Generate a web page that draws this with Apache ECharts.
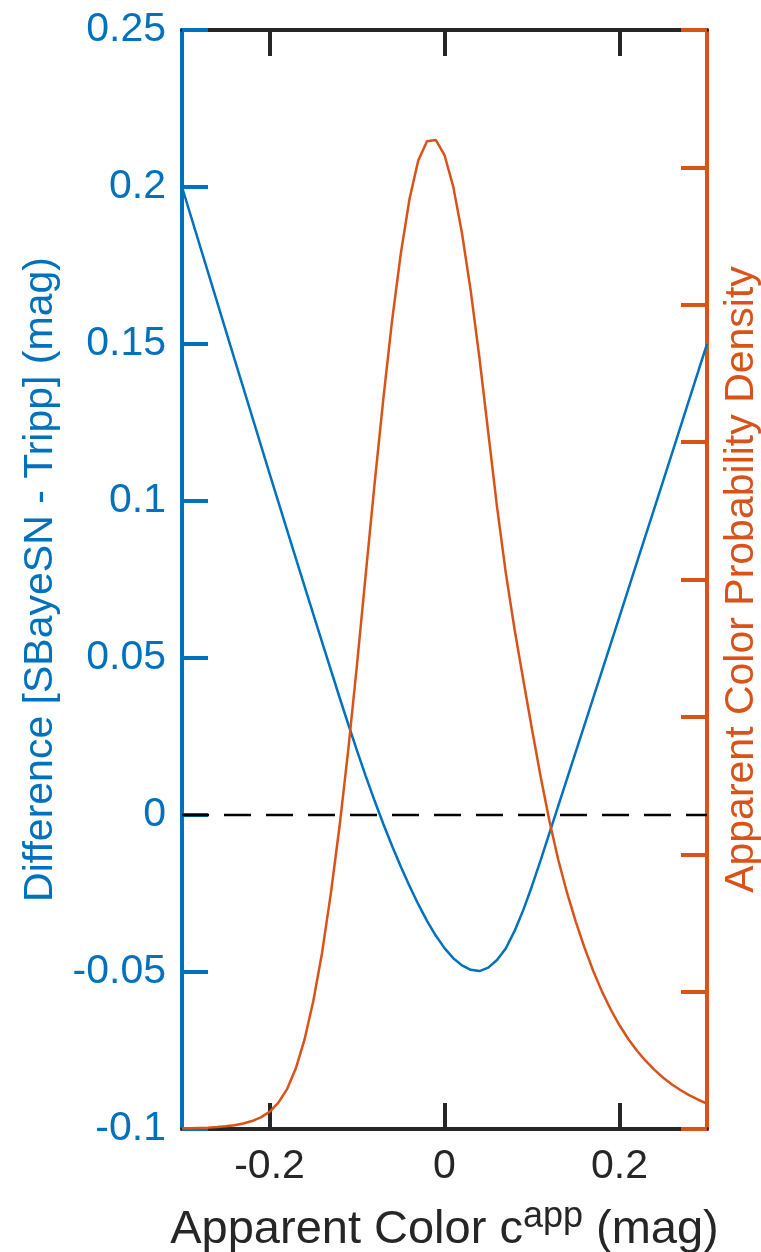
<!DOCTYPE html>
<html>
<head>
<meta charset="utf-8">
<script src="https://cdn.jsdelivr.net/npm/echarts@6/dist/echarts.min.js"></script>
<style>
  html, body { margin: 0; padding: 0; background: #ffffff; overflow: hidden; }
  #chart { width: 761px; height: 1252px; }
</style>
</head>
<body>
<div id="chart"></div>
<script>
// Difference between the two distance estimators as a function of apparent colour (left axis)
const diffColor = [
  -0.30, -0.28, -0.26, -0.24, -0.22, -0.20, -0.18, -0.16, -0.14, -0.12,
  -0.11, -0.10, -0.09, -0.08, -0.07, -0.06, -0.05, -0.04, -0.03, -0.02,
  -0.01, 0.00, 0.01, 0.02, 0.03, 0.04, 0.05, 0.06, 0.07, 0.08,
  0.09, 0.10, 0.11, 0.12, 0.13, 0.14, 0.15, 0.16, 0.17, 0.18,
  0.20, 0.22, 0.24, 0.26, 0.28, 0.30
];
const diffValues = [
  0.2000, 0.1817, 0.1635, 0.1452, 0.1270, 0.1088, 0.0908, 0.0729, 0.0551, 0.0375,
  0.0289, 0.0205, 0.0124, 0.0046, -0.0028, -0.0098, -0.0164, -0.0226, -0.0284, -0.0337,
  -0.0384, -0.0424, -0.0456, -0.0479, -0.0493, -0.0497, -0.0486, -0.0462, -0.0425, -0.0370,
  -0.0303, -0.0226, -0.0143, -0.0057, 0.0029, 0.0115, 0.0201, 0.0287, 0.0373, 0.0459,
  0.0632, 0.0805, 0.0978, 0.1152, 0.1326, 0.1500
];

// Apparent colour probability density (right axis, arbitrary units)
const densColor = [
  -0.30, -0.29, -0.28, -0.27, -0.26, -0.25, -0.24, -0.23, -0.22, -0.21,
  -0.20, -0.19, -0.18, -0.17, -0.16, -0.15, -0.14, -0.13, -0.12, -0.11,
  -0.10, -0.09, -0.08, -0.07, -0.06, -0.05, -0.04, -0.03, -0.02, -0.01,
  0.00, 0.01, 0.02, 0.03, 0.04, 0.05, 0.06, 0.07, 0.08, 0.09,
  0.10, 0.11, 0.12, 0.13, 0.14, 0.15, 0.16, 0.17, 0.18, 0.19,
  0.20, 0.21, 0.22, 0.23, 0.24, 0.25, 0.26, 0.27, 0.28, 0.29, 0.30
];
const densValues = [
  0.005, 0.006, 0.008, 0.010, 0.014, 0.020, 0.028, 0.040, 0.058, 0.085,
  0.125, 0.190, 0.290, 0.440, 0.650, 0.930, 1.280, 1.710, 2.200, 2.760,
  3.380, 4.040, 4.690, 5.310, 5.880, 6.370, 6.770, 7.050, 7.190, 7.200,
  7.090, 6.860, 6.520, 6.100, 5.610, 5.070, 4.530, 4.050, 3.640, 3.270,
  2.910, 2.560, 2.240, 1.960, 1.720, 1.510, 1.320, 1.150, 1.000, 0.870,
  0.755, 0.655, 0.570, 0.495, 0.430, 0.373, 0.324, 0.282, 0.245, 0.213, 0.185
];

// Zero reference line
const zeroLineX = [-0.30, 0.30];
const zeroLineY = [0, 0];

// Tick positions
const xTicks = [-0.2, 0, 0.2];
const leftMin = -0.1, leftMax = 0.25, leftStep = 0.05;
const rightMin = 0, rightMax = 8, rightStep = 1;

const BLUE = '#0072BD';
const ORANGE = '#D95319';
const DARK = '#262626';
const FONT = '"Liberation Sans", Arial, Helvetica, sans-serif';

const zip = (xs, ys) => xs.map((x, i) => [x, ys[i]]);
const fmt = v => String(parseFloat(v.toFixed(2)));

const chart = echarts.init(document.getElementById('chart'), null, { renderer: 'canvas' });

const xAxisCommon = {
  type: 'value',
  min: -0.3,
  max: 0.3,
  splitLine: { show: false },
  axisLine: { show: true, onZero: false, lineStyle: { color: DARK, width: 4 } },
  axisTick: { show: true, inside: true, length: 26, customValues: xTicks, lineStyle: { color: DARK, width: 4 } }
};

chart.setOption({
  animation: false,
  backgroundColor: '#ffffff',
  grid: {
    left: 182, right: 54, top: 30, bottom: 123,
    containLabel: false,
    outerBoundsMode: 'none'
  },
  xAxis: [
    Object.assign({}, xAxisCommon, {
      position: 'bottom',
      name: 'Apparent Color c{sup|app} (mag)',
      nameLocation: 'middle',
      nameGap: 70,
      nameTextStyle: {
        color: DARK, fontFamily: FONT, fontSize: 47,
        rich: {
          sup: { fontFamily: FONT, fontSize: 36, color: DARK, padding: [0, 0, 27, 0] }
        }
      },
      axisLabel: {
        show: true, customValues: xTicks, margin: 17,
        color: DARK, fontFamily: FONT, fontSize: 41,
        formatter: fmt
      }
    }),
    Object.assign({}, xAxisCommon, {
      position: 'top',
      axisLabel: { show: false }
    })
  ],
  yAxis: [
    {
      type: 'value',
      position: 'left',
      min: leftMin, max: leftMax, interval: leftStep,
      splitLine: { show: false },
      axisLine: { show: true, onZero: false, lineStyle: { color: BLUE, width: 4 } },
      axisTick: { show: true, inside: true, length: 26, lineStyle: { color: BLUE, width: 4 } },
      axisLabel: {
        color: BLUE, fontFamily: FONT, fontSize: 41, margin: 16,
        formatter: fmt
      },
      name: 'Difference [SBayeSN - Tripp] (mag)',
      nameLocation: 'middle',
      nameRotate: 90,
      nameGap: 112,
      nameTextStyle: { color: BLUE, fontFamily: FONT, fontSize: 41 }
    },
    {
      type: 'value',
      position: 'right',
      min: rightMin, max: rightMax, interval: rightStep,
      splitLine: { show: false },
      axisLine: { show: true, onZero: false, lineStyle: { color: ORANGE, width: 4 } },
      axisTick: { show: true, inside: true, length: 26, lineStyle: { color: ORANGE, width: 4 } },
      axisLabel: { show: false },
      name: 'Apparent Color Probability Density',
      nameLocation: 'middle',
      nameRotate: 90,
      nameGap: 14,
      nameTextStyle: { color: ORANGE, fontFamily: FONT, fontSize: 41 }
    }
  ],
  series: [
    {
      name: 'zero',
      type: 'line',
      xAxisIndex: 0, yAxisIndex: 0,
      data: zip(zeroLineX, zeroLineY),
      showSymbol: false,
      lineStyle: { color: '#000000', width: 2.5, type: [27, 15] },
      z: 2
    },
    {
      name: 'difference',
      type: 'line',
      xAxisIndex: 0, yAxisIndex: 0,
      data: zip(diffColor, diffValues),
      showSymbol: false,
      lineStyle: { color: BLUE, width: 2.5 },
      z: 3
    },
    {
      name: 'density',
      type: 'line',
      xAxisIndex: 0, yAxisIndex: 1,
      data: zip(densColor, densValues),
      showSymbol: false,
      lineStyle: { color: ORANGE, width: 2.5 },
      z: 4
    }
  ]
});
</script>
</body>
</html>
